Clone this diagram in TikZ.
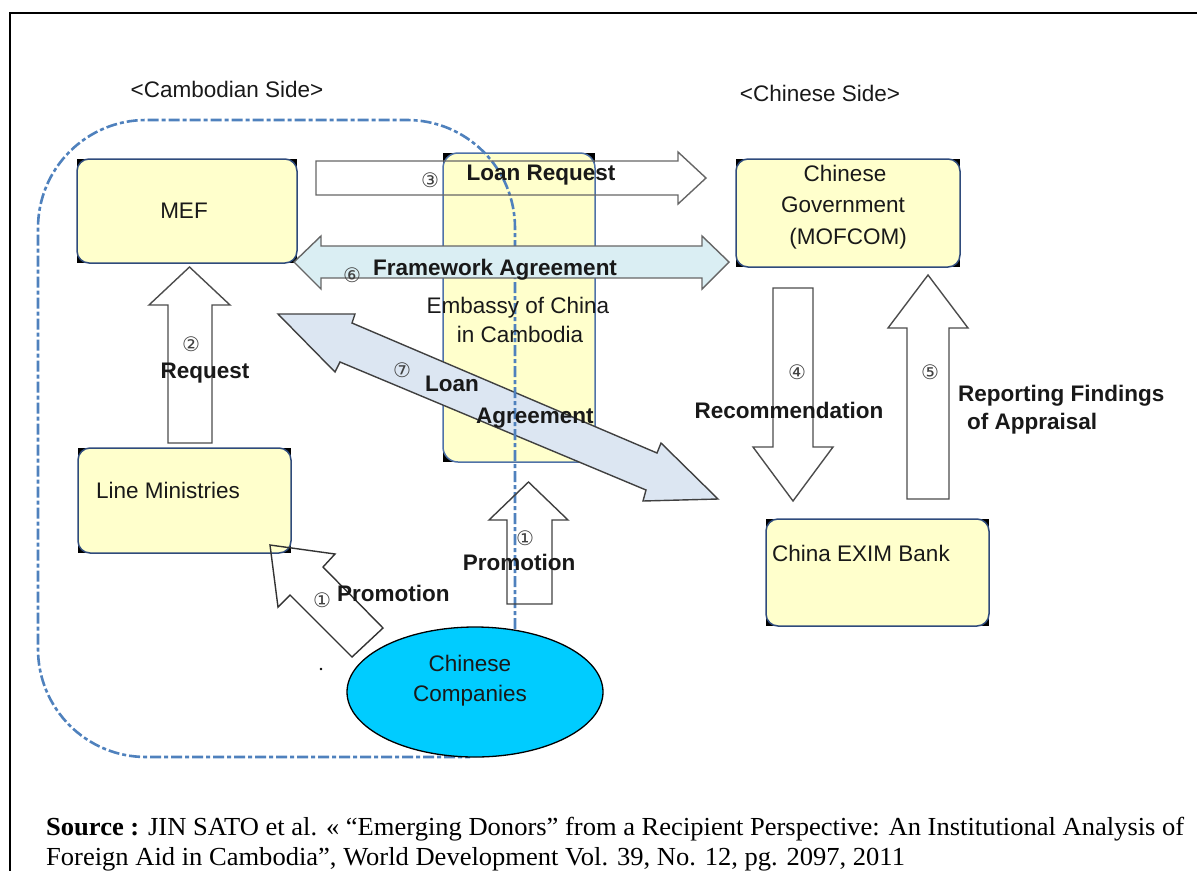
\documentclass[tikz,border=0pt]{standalone}
\usepackage{fontspec}
\usetikzlibrary{shapes.geometric}
\setmainfont{Liberation Sans}
\newfontfamily\srcfont{Liberation Serif}
\newfontfamily\circfont{DejaVu Sans}
\definecolor{boxyellow}{HTML}{FFFFCC}
\definecolor{boxborder}{HTML}{2F4B7C}
\definecolor{embborder}{HTML}{4F72A8}
\definecolor{cambblue}{HTML}{4F81BD}
\definecolor{fwblue}{HTML}{DAEEF3}
\definecolor{lablue}{HTML}{DCE6F2}
\definecolor{compcyan}{HTML}{00CCFF}
\newsavebox\srclineA
\newsavebox\srclineB
\newlength\srcw
\begin{document}
\sbox\srclineA{\srcfont\fontsize{26}{30}\selectfont\textbf{Source :} JIN SATO et al. « “Emerging Donors” from a Recipient Perspective: An Institutional Analysis of}%
\sbox\srclineB{\srcfont\fontsize{26}{30}\selectfont Foreign Aid in Cambodia”, World Development Vol. 39, No. 12, pg. 2097, 2011}%
\setlength\srcw{\wd\srclineA}%
\begin{tikzpicture}[x=1pt,y=-1pt,
  bbox/.style={fill=black,draw=none,inner sep=0pt,outer sep=0pt},
  ybox/.style={draw=boxborder,line width=1.5pt,fill=boxyellow,rounded corners=12pt,inner sep=0pt,outer sep=0pt},
  txt/.style={font=\fontsize{22.5}{31}\selectfont,inner sep=0pt,text=black!90},
  btxt/.style={font=\fontsize{22.5}{31}\selectfont\bfseries,inner sep=0pt,text=black!90},
  circ/.style={font=\fontsize{20}{20}\circfont,inner sep=0pt,text=black!75},
  blockarrow/.style={draw=black!60,line width=1.4pt,line join=miter},
  camb/.style={draw=cambblue,line width=2.6pt,dash pattern=on 11pt off 3pt on 4pt off 3pt,rounded corners=108pt}
]
\useasboundingbox (0,0) rectangle (1197,871);
% frame
\draw[line width=2pt] (1197,13) -- (10,13) -- (10,871);

% titles
\node[txt,anchor=base] (camside) at (227,97) {<Cambodian Side>};
\node[txt,anchor=base] (chnside) at (820,101) {<Chinese Side>};

% embassy box
\node[bbox,minimum width=152pt,minimum height=309pt] (embbg) at (519,307.5) {};
\node[ybox,draw=embborder,rounded corners=15pt,minimum width=152pt,minimum height=309pt] (emb) at (519,307.5) {};

% other boxes
\node[bbox,minimum width=220pt,minimum height=104pt] (mefbg) at (187,211) {};
\node[ybox,minimum width=220pt,minimum height=104pt] (mef) at (187,211) {};
\node[bbox,minimum width=224pt,minimum height=108pt] (govbg) at (848,213) {};
\node[ybox,minimum width=224pt,minimum height=108pt] (gov) at (848,213) {};
\node[bbox,minimum width=213pt,minimum height=105pt] (linebg) at (184.5,500.5) {};
\node[ybox,minimum width=213pt,minimum height=105pt] (line) at (184.5,500.5) {};
\node[bbox,minimum width=223pt,minimum height=107pt] (eximbg) at (877.5,572.5) {};
\node[ybox,minimum width=223pt,minimum height=107pt] (exim) at (877.5,572.5) {};

% loan agreement arrow (7)
\draw[blockarrow,fill=lablue,draw=black!75] (278,314) -- (355,314) -- (352,323) -- (657,453) -- (661,443) -- (718,499) -- (643,501) -- (646,490) -- (340,362) -- (335,372) -- cycle;

% Cambodian side boundary
\draw[camb] (515,650) -- (515,120) -- (38,120) -- (38,757) -- (470,757);

% loan request arrow (3)
\draw[blockarrow] (316,161) -- (678,161) -- (678,152) -- (706,178) -- (678,204) -- (678,195) -- (316,195) -- cycle;

% framework agreement arrow (6)
\draw[blockarrow,fill=fwblue] (294,262) -- (321,236) -- (321,246) -- (702,246) -- (702,236) -- (729,262) -- (702,289) -- (702,278) -- (321,278) -- (321,289) -- cycle;

% request arrow (2)
\draw[blockarrow,draw=black!70] (168,443) -- (168,305) -- (149,305) -- (189.5,267) -- (230,305) -- (212,305) -- (212,443) -- cycle;

% recommendation arrow (4)
\draw[blockarrow,draw=black!70] (773,288) -- (813,288) -- (813,447) -- (833,447) -- (793,501) -- (753,447) -- (773,447) -- cycle;

% reporting arrow (5)
\draw[blockarrow,draw=black!70] (907,499) -- (907,328) -- (888,328) -- (928,275) -- (968,328) -- (949,328) -- (949,499) -- cycle;

% promotion arrows (1)
\draw[blockarrow,draw=black!75] (507,604) -- (507,520) -- (489,520) -- (528.5,482) -- (568,520) -- (552,520) -- (552,604) -- cycle;
\draw[blockarrow,draw=black!80] (270,545) -- (335,554) -- (323,567) -- (383,628) -- (352,657) -- (290,595) -- (278,607) -- cycle;

% Chinese companies
\node[draw=black,line width=1.3pt,fill=compcyan,ellipse,minimum width=256pt,minimum height=130pt,inner sep=0pt] (comp) at (475,692) {};
\fill (321,669) circle (1.3pt);

% box texts
\node[txt,anchor=base] (meft) at (184,218) {MEF};
\node[txt,anchor=base] (govt1) at (845,181) {Chinese};
\node[txt,anchor=base] (govt2) at (843,212) {Government};
\node[txt,anchor=base] (govt3) at (848,244) {(MOFCOM)};
\node[txt,anchor=base] (embt1) at (518,313) {Embassy of China};
\node[txt,anchor=base] (embt2) at (520,342) {in Cambodia};
\node[txt,anchor=base west] (linet) at (96,498) {Line Ministries};
\node[txt,anchor=base west] (eximt) at (772,561) {China EXIM Bank};
\node[txt,anchor=base] (compt1) at (470,671) {Chinese};
\node[txt,anchor=base] (compt2) at (470,701) {Companies};

% arrow labels
\node[circ] (n3) at (430,180) {③};
\node[btxt,anchor=base] (lreq) at (541,180) {Loan Request};
\node[circ] (n6) at (352,275) {⑥};
\node[btxt,anchor=base west] (fw) at (373,275) {Framework Agreement};
\node[circ] (n2) at (191,344) {②};
\node[btxt,anchor=base] (req) at (205,378) {Request};
\node[circ] (n7) at (402,370) {⑦};
\node[btxt,anchor=base west] (la1) at (425,391) {Loan};
\node[btxt,anchor=base west] (la2) at (476,423) {Agreement};
\node[circ] (n4) at (797,372) {④};
\node[btxt,anchor=base] (rec) at (789,418) {Recommendation};
\node[circ] (n5) at (930,372) {⑤};
\node[btxt,anchor=base west] (rep1) at (958,401) {Reporting Findings};
\node[btxt,anchor=base west] (rep2) at (967,429) {of Appraisal};
\node[circ] (n1a) at (322,600) {①};
\node[btxt,anchor=base west] (prom1) at (337,601) {Promotion};
\node[circ] (n1b) at (525,538) {①};
\node[btxt,anchor=base] (prom2) at (519,570) {Promotion};

% source
\pgfmathsetmacro\srcsx{1138/\the\srcw}
\node[anchor=base west,inner sep=0pt] (src1) at (46,835) {\scalebox{\srcsx}[1]{\usebox\srclineA}};
\node[anchor=base west,inner sep=0pt] (src2) at (46,865) {\scalebox{\srcsx}[1]{\usebox\srclineB}};
\end{tikzpicture}
\end{document}
